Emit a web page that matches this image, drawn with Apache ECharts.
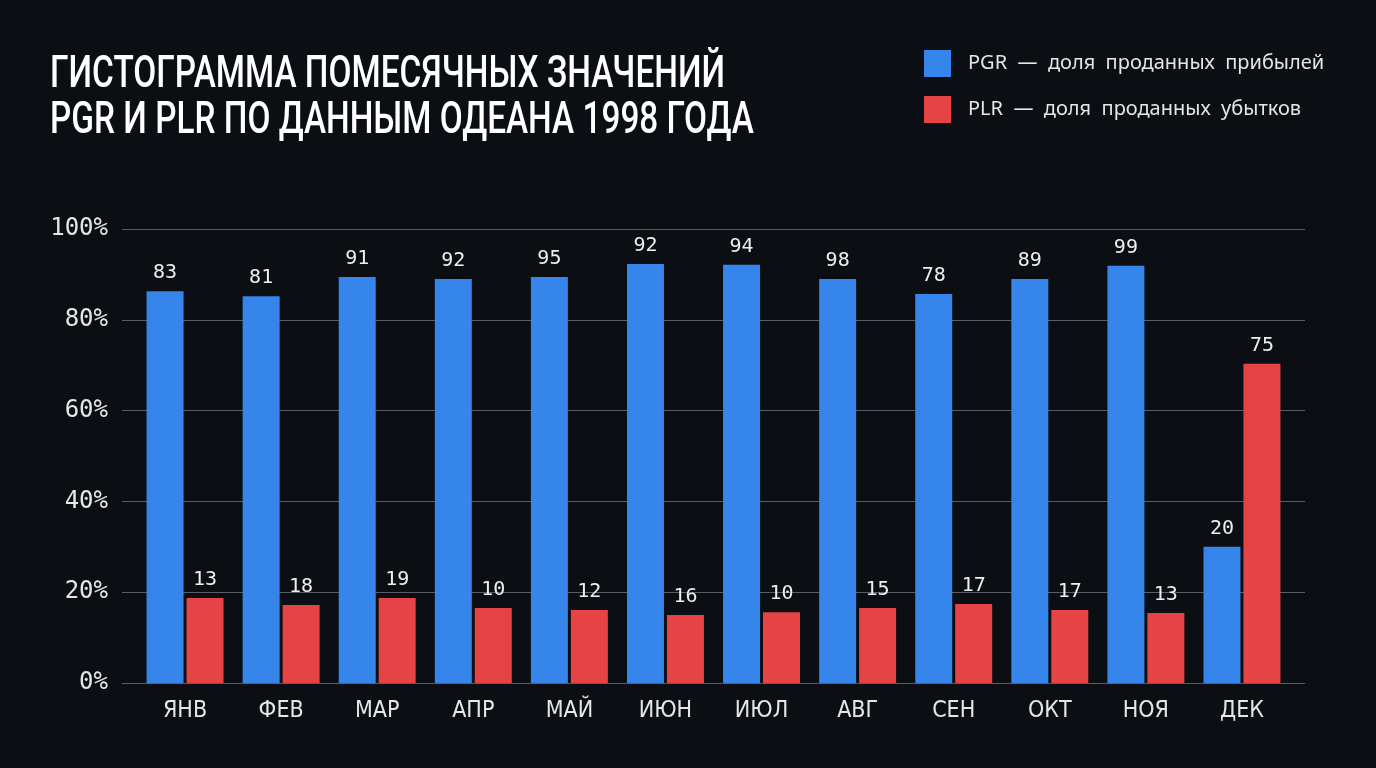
<!DOCTYPE html>
<html>
<head>
<meta charset="utf-8">
<script src="https://cdn.jsdelivr.net/npm/echarts@6/dist/echarts.min.js"></script>
<style>
  html, body { margin: 0; padding: 0; background: #0b0e12; }
  #chart { width: 1376px; height: 768px; }
</style>
</head>
<body>
<div id="chart"></div>
<script>
// месяцы
var months = ['ЯНВ', 'ФЕВ', 'МАР', 'АПР', 'МАЙ', 'ИЮН', 'ИЮЛ', 'АВГ', 'СЕН', 'ОКТ', 'НОЯ', 'ДЕК'];
// высоты столбцов (%)
var pgrValues = [86.3, 85.2, 89.4, 89.0, 89.4, 92.3, 92.1, 89.0, 85.7, 89.0, 91.9, 30.0];
var plrValues = [18.7, 17.2, 18.7, 16.5, 16.1, 15.0, 15.6, 16.5, 17.4, 16.1, 15.4, 70.3];
// подписи над столбцами, как на картинке
var pgrLabels = [83, 81, 91, 92, 95, 92, 94, 98, 78, 89, 99, 20];
var plrLabels = [13, 18, 19, 10, 12, 16, 10, 15, 17, 17, 13, 75];
// шкала Y
var yMin = 0, yMax = 100, yStep = 20;

var titleLines = ['ГИСТОГРАММА ПОМЕСЯЧНЫХ ЗНАЧЕНИЙ', 'PGR И PLR ПО ДАННЫМ ОДЕАНА 1998 ГОДА'];
var legendNames = ['PGR  —  доля  проданных  прибылей', 'PLR  —  доля  проданных  убытков'];

var mono = '"DejaVu Sans Mono", monospace';
var cond = '"DejaVu Sans Condensed", "DejaVu Sans", sans-serif';
var titleFont = 'Roboto, "Noto Sans", sans-serif';

// заголовок узкий - сжимаем по ширине первой строки (~675px)
var ctx = document.createElement('canvas').getContext('2d');
ctx.font = '500 44px ' + titleFont;
var titleScale = 675 / ctx.measureText(titleLines[0]).width;

var myChart = echarts.init(document.getElementById('chart'));

var option = {
    backgroundColor: '#0b0e12',
    animation: false,
    graphic: [{
        type: 'text',
        x: 50,
        y: 53,
        scaleX: titleScale,
        style: {
            text: titleLines.join('\n'),
            fill: '#ffffff',
            fontFamily: titleFont,
            fontWeight: 500,
            fontSize: 44,
            lineHeight: 46,
            verticalAlign: 'top'
        }
    }],
    legend: {
        orient: 'vertical',
        left: 924,
        top: 50,
        padding: 0,
        itemWidth: 27,
        itemHeight: 27,
        itemGap: 19,
        icon: 'rect',
        data: legendNames,
        textStyle: {
            color: '#e6e6e6',
            fontFamily: '"Noto Sans", sans-serif',
            fontSize: 20,
            padding: [4, 0, 0, 12]
        }
    },
    // grid 0 - столбцы, grid 1 - линии сетки и шкала
    grid: [
        { left: 137, right: 86, top: 229, bottom: 85 },
        { left: 122, right: 71, top: 229, bottom: 85 }
    ],
    xAxis: [
        {
            type: 'category',
            gridIndex: 0,
            data: months,
            axisLine: { show: false },
            axisTick: { show: false },
            axisLabel: {
                color: '#e6e6e6',
                fontFamily: cond,
                fontSize: 23,
                margin: 17
            }
        },
        {
            type: 'category',
            gridIndex: 1,
            data: months,
            show: false
        }
    ],
    yAxis: [
        {
            type: 'value',
            gridIndex: 0,
            min: yMin,
            max: yMax,
            interval: yStep,
            show: false
        },
        {
            type: 'value',
            gridIndex: 1,
            min: yMin,
            max: yMax,
            interval: yStep,
            axisLine: { show: false },
            axisTick: { show: false },
            axisLabel: {
                formatter: '{value}%',
                color: '#e6e6e6',
                fontFamily: mono,
                fontSize: 24,
                margin: 14,
                padding: [3, 0, 0, 0]
            },
            splitLine: { lineStyle: { color: '#5a5e64', width: 1.2 } }
        }
    ],
    series: [
        {
            name: legendNames[0],
            type: 'bar',
            xAxisIndex: 0,
            yAxisIndex: 0,
            data: pgrValues,
            barWidth: 37,
            barGap: '8%',
            itemStyle: { color: '#3685ea' },
            label: {
                show: true,
                position: 'top',
                distance: 8,
                color: '#eeeeee',
                fontFamily: mono,
                fontSize: 20,
                formatter: function (p) { return pgrLabels[p.dataIndex]; }
            }
        },
        {
            name: legendNames[1],
            type: 'bar',
            xAxisIndex: 0,
            yAxisIndex: 0,
            data: plrValues,
            barWidth: 37,
            barGap: '8%',
            itemStyle: { color: '#e64444' },
            label: {
                show: true,
                position: 'top',
                distance: 8,
                color: '#eeeeee',
                fontFamily: mono,
                fontSize: 20,
                formatter: function (p) { return plrLabels[p.dataIndex]; }
            }
        }
    ]
};

myChart.setOption(option);
</script>
</body>
</html>
